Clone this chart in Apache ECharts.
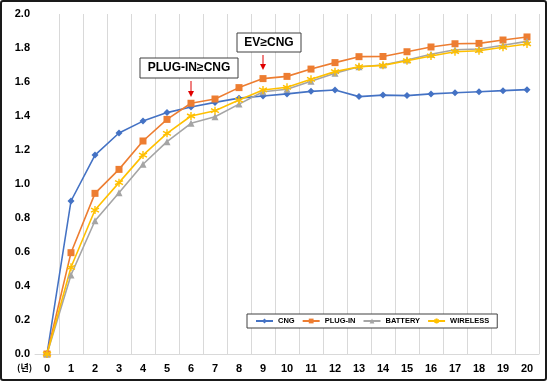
<!DOCTYPE html>
<html><head><meta charset="utf-8">
<script src="https://cdn.jsdelivr.net/npm/echarts@6/dist/echarts.min.js"></script>
<style>html,body{margin:0;padding:0;background:#fff}#c{width:549px;height:385px}</style>
</head><body><div id="c"></div>
<script>
var years = ['0','1','2','3','4','5','6','7','8','9','10','11','12','13','14','15','16','17','18','19','20'];
var cng = [0,0.90,1.17,1.30,1.37,1.42,1.453,1.48,1.505,1.518,1.53,1.545,1.553,1.514,1.523,1.52,1.53,1.537,1.543,1.549,1.555];
var plugin = [0,0.596,0.945,1.086,1.253,1.38,1.475,1.50,1.567,1.62,1.633,1.676,1.714,1.749,1.75,1.778,1.806,1.825,1.827,1.847,1.865];
var battery = [0,0.465,0.784,0.949,1.116,1.249,1.357,1.396,1.47,1.543,1.557,1.604,1.651,1.69,1.70,1.729,1.763,1.79,1.794,1.816,1.839];
var wireless = [0,0.51,0.847,1.008,1.17,1.298,1.40,1.431,1.494,1.553,1.569,1.616,1.661,1.69,1.698,1.725,1.753,1.778,1.784,1.804,1.824];
var yTicks = [0,0.2,0.4,0.6,0.8,1.0,1.2,1.4,1.6,1.8,2.0];

var chart = echarts.init(document.getElementById('c'));
var star = 'path://M5,0 L5,10 M0,2.5 L10,7.5 M0,7.5 L10,2.5';
function ser(name, data, color, symbol, size, extra) {
  var s = {
    name: name, type: 'line', data: data, symbol: symbol, symbolSize: size,
    lineStyle: {color: color, width: 1.6}, itemStyle: {color: color},
    animation: false, z: 3
  };
  if (extra) Object.assign(s.itemStyle, extra);
  return s;
}
chart.setOption({
  animation: false,
  grid: {left: 35, right: 10, top: 14, bottom: 31},
  legend: {
    left: 247, top: 314, orient: 'horizontal',
    padding: [3, 8, 3, 8], itemGap: 7, itemWidth: 17, itemHeight: 6,
    borderColor: '#404040', borderWidth: 1, backgroundColor: '#fff',
    textStyle: {fontSize: 7.5, fontWeight: 'bold', color: '#000', fontFamily: 'Liberation Sans'},
    data: ['CNG','PLUG-IN','BATTERY','WIRELESS']
  },
  xAxis: {
    type: 'category', data: years, boundaryGap: true,
    axisLine: {lineStyle: {color: '#d9d9d9'}},
    axisTick: {show: false},
    axisLabel: {fontSize: 11, fontWeight: 'bold', color: '#000', margin: 9, fontFamily: 'Liberation Sans'},
    splitLine: {show: true, showMinLine: false, interval: 0, lineStyle: {color: '#d9d9d9', width: 1}}
  },
  yAxis: {
    type: 'value', min: 0, max: 2.0, interval: 0.2,
    axisLine: {show: false}, axisTick: {show: false},
    splitLine: {show: false},
    axisLabel: {fontSize: 11, fontWeight: 'bold', color: '#000', margin: 5, fontFamily: 'Liberation Sans',
      formatter: function (v) { return v.toFixed(1); }}
  },
  series: [
    ser('CNG', cng, '#4472C4', 'diamond', 7),
    ser('PLUG-IN', plugin, '#ED7D31', 'rect', 7),
    ser('BATTERY', battery, '#A5A5A5', 'triangle', 7),
    ser('WIRELESS', wireless, '#FFC000', star, 8, {borderColor: '#FFC000', borderWidth: 1.4})
  ],
  graphic: [
    {type: 'rect', shape: {x: 1, y: 1, width: 545, height: 379, r: 2}, style: {fill: 'none', stroke: '#1a1a1a', lineWidth: 2}, z: 100},
    {type: 'text', left: 17, top: 363, style: {text: '(년)', fontSize: 9, fontWeight: 'bold', fill: '#000', fontFamily: 'Noto Sans CJK KR'}},
    {type: 'rect', shape: {x: 140, y: 58, width: 98, height: 20}, style: {fill: '#fff', stroke: '#404040', lineWidth: 1}, z: 50},
    {type: 'text', x: 189, y: 68, style: {text: 'PLUG-IN≥CNG', fontSize: 12, fontWeight: 'bold', fill: '#000', align: 'center', verticalAlign: 'middle', fontFamily: 'Liberation Sans'}, z: 51},
    {type: 'line', shape: {x1: 191, y1: 81, x2: 191, y2: 92}, style: {stroke: '#E00000', lineWidth: 1}, z: 50},
    {type: 'polygon', shape: {points: [[188, 91], [194, 91], [191, 97]]}, style: {fill: '#E00000'}, z: 50},
    {type: 'rect', shape: {x: 237, y: 33, width: 64, height: 19}, style: {fill: '#fff', stroke: '#404040', lineWidth: 1}, z: 50},
    {type: 'text', x: 269, y: 42.5, style: {text: 'EV≥CNG', fontSize: 12, fontWeight: 'bold', fill: '#000', align: 'center', verticalAlign: 'middle', fontFamily: 'Liberation Sans'}, z: 51},
    {type: 'line', shape: {x1: 263, y1: 55, x2: 263, y2: 65}, style: {stroke: '#E00000', lineWidth: 1}, z: 50},
    {type: 'polygon', shape: {points: [[260, 64], [266, 64], [263, 70]]}, style: {fill: '#E00000'}, z: 50}
  ]
});
</script></body></html>
